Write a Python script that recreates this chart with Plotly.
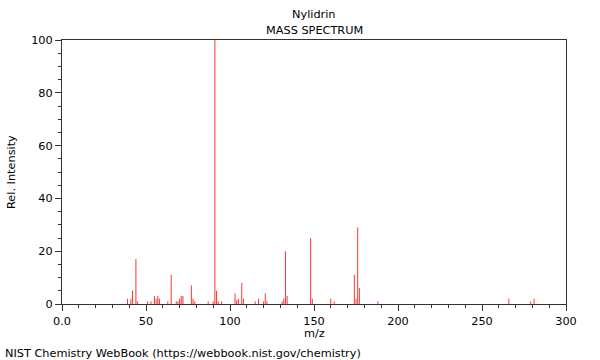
import plotly.graph_objects as go

mz = [39, 41, 42, 44, 45, 51, 53, 55, 56, 57, 58, 63, 65, 68, 69, 70, 71, 72,
      77, 78, 79, 87, 90, 91, 92, 93, 95, 103, 104, 105, 107, 108, 115, 117,
      120, 121, 122, 131, 132, 133, 134, 148, 149, 160, 162, 174, 175, 176,
      177, 188, 266, 279, 281]
intensity = [2, 2, 5, 17, 1, 1, 1, 3, 2, 3, 2, 1, 11, 1, 1, 2, 3, 3,
             7, 2, 1, 1, 1, 100, 5, 1, 1, 4, 1.5, 2, 8, 2, 1, 2,
             1, 4, 1, 1, 2, 20, 3, 25, 2, 2, 1, 11, 2, 29,
             6, 1, 2, 1, 2]

x_tickvals = [0, 50, 100, 150, 200, 250, 300]
x_ticktext = ["0.0", "50", "100", "150", "200", "250", "300"]
y_tickvals = [0, 20, 40, 60, 80, 100]
y_ticktext = ["0", "20", "40", "60", "80", "100"]

xs, ys = [], []
for m, v in zip(mz, intensity):
    xs += [m, m, None]
    ys += [0, v, None]

fig = go.Figure()
fig.add_trace(go.Scatter(x=xs, y=ys, mode="lines",
                         line=dict(color="#ff3333", width=1),
                         hoverinfo="skip", showlegend=False))

font = dict(family="DejaVu Sans", size=11.3, color="#000000")

L, R, T, B = 62, 34, 40, 56
W, H = 600, 360
plot_w = W - L - R
plot_h = H - T - B


def px(xp):
    return (xp - L) / plot_w


def py(yp):
    return (H - B - yp) / plot_h


fig.update_layout(
    width=W, height=H,
    margin=dict(l=L, r=R, t=T, b=B, autoexpand=False),
    paper_bgcolor="white", plot_bgcolor="white",
    font=font,
    showlegend=False,
    xaxis=dict(range=[0, 300], tickvals=x_tickvals, ticktext=x_ticktext,
               ticks="outside", ticklen=6, tickcolor="#333", tickwidth=1,
               showgrid=False, zeroline=False, showline=True, linecolor="#333",
               linewidth=1, mirror=True, automargin=False,
               minor=dict(dtick=10, ticks="outside", ticklen=3, tickcolor="#333", showgrid=False),
               tickfont=font),
    yaxis=dict(range=[0, 100], tickvals=y_tickvals, ticktext=y_ticktext,
               ticks="outside", ticklen=6, tickcolor="#333", tickwidth=1,
               showgrid=False, zeroline=False, showline=True, linecolor="#333",
               linewidth=1, mirror=True, automargin=False,
               minor=dict(dtick=5, ticks="outside", ticklen=3, tickcolor="#333", showgrid=False),
               tickfont=font),
    annotations=[
        dict(text="Nylidrin", xref="paper", yref="paper", showarrow=False,
             x=px(314), y=py(14), xanchor="center", yanchor="middle"),
        dict(text="MASS SPECTRUM", xref="paper", yref="paper", showarrow=False,
             x=px(314), y=py(31), xanchor="center", yanchor="middle"),
        dict(text="m/z", xref="paper", yref="paper", showarrow=False,
             x=px(314), y=py(333), xanchor="center", yanchor="middle"),
        dict(text="Rel. Intensity", xref="paper", yref="paper", showarrow=False,
             x=px(11), y=py(172), xanchor="center", yanchor="middle", textangle=-90),
        dict(text="NIST Chemistry WebBook (https://webbook.nist.gov/chemistry)",
             xref="paper", yref="paper", showarrow=False,
             x=px(3), y=py(353), xanchor="left", yanchor="middle"),
    ],
)

fig.write_html("out.html", config={"displayModeBar": False},
               post_script="document.body.style.margin='0';")
